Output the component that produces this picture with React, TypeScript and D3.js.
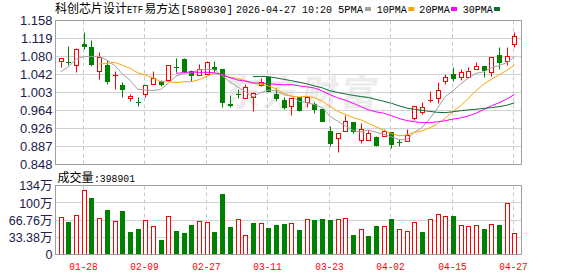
import React from 'react';
import * as d3 from 'd3';

const dates = ['01-23','01-26','01-27','01-28','01-29','01-30','02-02','02-03','02-04','02-05','02-06','02-09','02-10','02-11','02-12','02-13','02-24','02-25','02-26','02-27','03-02','03-03','03-04','03-05','03-06','03-09','03-10','03-11','03-12','03-13','03-16','03-17','03-18','03-19','03-20','03-23','03-24','03-25','03-26','03-27','03-30','03-31','04-01','04-02','04-03','04-07','04-08','04-09','04-10','04-13','04-14','04-15','04-16','04-17','04-20','04-21','04-22','04-23','04-24','04-27'];

const openP = [1.0691,1.0680,1.0605,1.1070,1.0999,1.0489,1.0618,1.0388,1.0187,0.9894,0.9812,0.9993,1.0196,1.0260,1.0295,1.0572,1.0747,1.0482,1.0390,1.0417,1.0575,1.0525,0.9772,0.9996,0.9894,0.9929,1.0187,1.0346,0.9987,0.9858,0.9722,0.9916,0.9808,0.9772,0.9664,0.9197,0.9033,0.9197,0.9378,0.8997,0.9003,0.9055,0.9089,0.9162,0.8951,0.8981,0.9464,0.9606,0.9855,0.9903,1.0260,1.0417,1.0346,1.0346,1.0525,1.0596,1.0467,1.0833,1.0704,1.1063];
const highP = [1.0768,1.1014,1.0977,1.1322,1.1143,1.0891,1.0712,1.0482,1.0245,0.9993,0.9916,1.0174,1.0482,1.0295,1.0618,1.0762,1.0762,1.0497,1.0639,1.0700,1.0700,1.0525,0.9972,1.0095,1.0202,1.0023,1.0331,1.0360,1.0116,0.9929,0.9908,0.9930,0.9929,0.9808,0.9680,0.9304,0.9141,0.9535,0.9378,0.9363,0.9218,0.9089,0.9233,0.9170,0.9018,0.9233,0.9722,0.9821,1.0058,1.0239,1.0417,1.0575,1.0525,1.0575,1.0682,1.0596,1.0777,1.0992,1.0992,1.1315];
const lowP = [1.0568,1.0605,1.0460,1.0962,1.0583,1.0316,1.0209,1.0088,0.9922,0.9836,0.9722,0.9929,1.0196,1.0153,1.0267,1.0460,1.0468,1.0267,1.0390,1.0417,1.0454,0.9713,0.9713,0.9894,0.9894,0.9627,1.0153,1.0045,0.9843,0.9664,0.9541,0.9630,0.9701,0.9580,0.9412,0.8874,0.8745,0.9197,0.9141,0.8925,0.9003,0.8874,0.9075,0.8818,0.8861,0.8981,0.9434,0.9556,0.9808,0.9787,1.0202,1.0260,1.0288,1.0346,1.0525,1.0346,1.0380,1.0525,1.0611,1.0992];
const closeP = [1.0768,1.0676,1.0949,1.1014,1.0626,1.0783,1.0260,1.0392,1.0101,0.9944,0.9808,1.0174,1.0338,1.0209,1.0618,1.0568,1.0482,1.0390,1.0532,1.0676,1.0525,0.9808,0.9756,0.9992,1.0131,1.0002,1.0252,1.0045,0.9894,0.9701,0.9901,0.9642,0.9929,0.9664,0.9412,0.8926,0.9141,0.9399,0.9197,0.9233,0.9147,0.8889,0.9197,0.8910,0.8947,0.9104,0.9722,0.9701,0.9860,1.0073,1.0346,1.0331,1.0454,1.0489,1.0596,1.0504,1.0777,1.0669,1.0811,1.1242];
// closes of the four sessions before the first visible one (feed the moving averages)
const priorCloses = [1.0141,1.0129,1.0724,1.0618];
// volume in 万 (10k)
const volume = [71,62,75,123,108,69,85,63,83,42.6,48,65,53.5,27,73,44.5,40.6,56,63,62,42.6,116,52,67,36,60,60,50,56,58,60,46.5,67,66,68,66,67,69,37,48,35,54,53.5,68,48,44,61,42.6,67,77,73,73.5,55.5,53.5,55.5,48,57.5,56,98,39.89];

const priceTickLabels = ['0.848','0.887','0.926','0.964','1.003','1.042','1.080','1.119','1.158'];
const priceMin = 0.848;
const priceMax = 1.158;
const volTickValues = [0, 33.38, 66.76, 100.14, 133.52];
const volTickLabels = ['0','33.38万','66.76万','100万','134万'];
const dateLabels = ['01-28','02-09','02-27','03-11','03-23','04-02','04-15','04-27'];
const maPeriods = [5, 10, 20, 30];
const maNames = ['5PMA','10PMA','20PMA','30PMA'];
const maColors = ['#a0a0a0','#ffa500','#ff00ff','#0f6b32'];
const titleText = ['科创芯片设计','ETF','易方达','[589030]','2026-04-27 10:20'];
const volTitle = '成交量';
const lastVolText = ':398901';

const RED = '#ff0000';
const GREEN = '#008000';
const CJK = '"Noto Sans CJK SC", sans-serif';
const MONO = '"Liberation Mono", "DejaVu Sans Mono", monospace';
const SANS = '"Liberation Sans", Arial, "Noto Sans CJK SC", sans-serif';

export default function App() {
  const L = 55.5, R = 521.5;
  const pTop = 20.5, pBot = 164.5;
  const vTop = 185.5, vBot = 254.5;

  const x = d3.scaleLinear().domain([0, dates.length - 1]).range([60.7, 514.4]);
  const yP = d3.scaleLinear().domain([priceMin, priceMax]).range([pBot, pTop]);
  const yV = d3.scaleLinear().domain([0, volTickValues[volTickValues.length - 1]]).range([vBot, vTop]);

  const allCloses = priorCloses.concat(closeP);
  const off = priorCloses.length;
  const mas = maPeriods.map((n) =>
    closeP.map((_, i) => {
      const end = i + off;
      if (end - n + 1 < 0) return null;
      return d3.mean(allCloses.slice(end - n + 1, end + 1)) as number;
    })
  );
  const line = d3
    .line<number | null>()
    .defined((d) => d !== null)
    .x((_, i) => x(i))
    .y((d) => yP(d as number));

  const cxs = dates.map((_, i) => Math.round(x(i)));
  const priceTickVals = priceTickLabels.map((_, k) => priceMin + (k * (priceMax - priceMin)) / (priceTickLabels.length - 1));
  const snap = (v: number) => Math.round(v - 0.5) + 0.5;

  const candles = dates.map((d, i) => {
    const o = openP[i], c = closeP[i], h = highP[i], l = lowP[i];
    const prev = i === 0 ? priorCloses[priorCloses.length - 1] : closeP[i - 1];
    const up = c > o || (c === o && c >= prev);
    const cx = cxs[i];
    const wx = cx + 0.5;
    const yTop = snap(yP(Math.max(o, c)));
    const yBot = snap(yP(Math.min(o, c)));
    const yH = snap(yP(h));
    const yL = snap(yP(l));
    const col = up ? RED : GREEN;
    if (yBot - yTop < 1) {
      return (
        <g key={d}>
          <line x1={wx} x2={wx} y1={yH} y2={yL} stroke={col} strokeWidth={1} />
          <line x1={cx - 2} x2={cx + 3} y1={yTop} y2={yTop} stroke={col} strokeWidth={1} />
        </g>
      );
    }
    if (up) {
      return (
        <g key={d}>
          {yH < yTop && <line x1={wx} x2={wx} y1={yH} y2={yTop} stroke={col} />}
          {yL > yBot && <line x1={wx} x2={wx} y1={yBot} y2={yL} stroke={col} />}
          <rect x={cx - 1.5} y={yTop} width={4} height={yBot - yTop} fill="#fff" stroke={col} strokeWidth={1} />
        </g>
      );
    }
    return (
      <g key={d}>
        <line x1={wx} x2={wx} y1={yH} y2={yL} stroke={col} />
        <rect x={cx - 2} y={yTop - 0.5} width={5} height={yBot - yTop + 1} fill={col} />
      </g>
    );
  });

  const volBars = volume.map((v, i) => {
    const prev = i === 0 ? priorCloses[priorCloses.length - 1] : closeP[i - 1];
    const up = closeP[i] >= prev;
    const cx = cxs[i];
    const yt = snap(yV(v));
    if (up) {
      return <rect key={dates[i]} x={cx - 1.5} y={yt} width={4} height={vBot - yt} fill="#fff" stroke={RED} strokeWidth={1} />;
    }
    return <rect key={dates[i]} x={cx - 2} y={yt - 0.5} width={5} height={vBot - yt + 0.5} fill={GREEN} />;
  });

  const labelIdx = dateLabels.map((d) => dates.indexOf(d));

  const legendPos = [
    { tx: 338, tl: 25, sx: 365 },
    { tx: 376.7, tl: 30, sx: 408.3 },
    { tx: 419.3, tl: 30.5, sx: 451 },
    { tx: 462.7, tl: 30, sx: 494 },
  ];

  return (
    <svg width={578} height={276} style={{ position: 'absolute', left: 0, top: 0, background: '#fff' }} xmlns="http://www.w3.org/2000/svg">
      <rect x={0} y={0} width={578} height={276} fill="#fff" />
      {/* title */}
      <g fill="#000">
        <text x={55} y={12.5} fontFamily={CJK} fontSize={12}>{titleText[0]}</text>
        <text x={127} y={12.5} fontFamily={MONO} fontSize={10.5} textLength={16} lengthAdjust="spacingAndGlyphs">{titleText[1]}</text>
        <text x={144.5} y={12.5} fontFamily={CJK} fontSize={11.8}>{titleText[2]}</text>
        <text x={180.5} y={12.5} fontFamily={MONO} fontSize={10.5} textLength={52.5} lengthAdjust="spacingAndGlyphs">{titleText[3]}</text>
        <text x={236} y={12.5} fontFamily={MONO} fontSize={10.5} textLength={96} lengthAdjust="spacingAndGlyphs">{titleText[4]}</text>
        {maNames.map((n, k) => (
          <g key={n}>
            <text x={legendPos[k].tx} y={12.5} fontFamily={MONO} fontSize={10.5} textLength={legendPos[k].tl} lengthAdjust="spacingAndGlyphs">{n}</text>
            <rect x={legendPos[k].sx} y={7} width={6} height={4} fill={maColors[k]} />
          </g>
        ))}
      </g>

      {/* watermark */}
      <text x={224} y={106} fontFamily={CJK} fontSize={36} fontWeight={700} fill="#ececec" letterSpacing={3} transform="skewX(-8) translate(14,0)">东方财富</text>

      {/* grid */}
      {priceTickVals.slice(1, -1).map((v, k) => (
        <line key={'pg' + k} x1={L} x2={R} y1={snap(yP(v))} y2={snap(yP(v))} stroke="#d2d2d2" />
      ))}
      {volTickValues.slice(1, -1).map((v, k) => (
        <line key={'vg' + k} x1={L} x2={R} y1={snap(yV(v))} y2={snap(yV(v))} stroke="#d2d2d2" />
      ))}
      {labelIdx.map((i, k) => (
        <g key={'vl' + k}>
          <line x1={cxs[i] - 0.5} x2={cxs[i] - 0.5} y1={pTop} y2={pBot} stroke="#c8c8c8" strokeDasharray="4,3" />
          <line x1={cxs[i] - 0.5} x2={cxs[i] - 0.5} y1={vTop} y2={vBot} stroke="#c8c8c8" strokeDasharray="4,3" />
        </g>
      ))}

      {/* candles */}
      {candles}

      {/* moving averages */}
      {mas.map((m, k) => (
        <path key={'ma' + k} d={line(m) || ''} fill="none" stroke={maColors[k]} strokeWidth={1} />
      ))}

      {/* volume */}
      {volBars}

      {/* borders */}
      <rect x={L} y={pTop} width={R - L} height={pBot - pTop} fill="none" stroke="#a0a0a0" />
      <rect x={L} y={vTop} width={R - L} height={vBot - vTop} fill="none" stroke="#a0a0a0" />

      {/* price axis labels */}
      {priceTickLabels.map((t, k) => (
        <text key={t} x={52.5} y={yP(priceTickVals[k]) + 4.8} textAnchor="end" fontFamily={SANS} fontSize={13} fill="#20204a">{t}</text>
      ))}
      {/* volume axis labels */}
      {volTickLabels.map((t, k) => (
        <text key={t} x={52.5} y={yV(volTickValues[k]) + 4.8} textAnchor="end" fontFamily={SANS} fontSize={12.5} fill="#20204a">{t}</text>
      ))}

      {/* volume title */}
      <text x={57.5} y={181.5} fontFamily={CJK} fontSize={12} fill="#000">{volTitle}</text>
      <text x={94} y={181.5} fontFamily={MONO} fontSize={10.5} textLength={41} lengthAdjust="spacingAndGlyphs" fill="#000">{lastVolText}</text>

      {/* date labels */}
      {labelIdx.map((i, k) => (
        <text key={'dl' + k} x={cxs[i] - 0.5} y={269.5} textAnchor="middle" fontFamily={MONO} fontSize={11} textLength={28.5} lengthAdjust="spacingAndGlyphs" fill={RED}>{dateLabels[k]}</text>
      ))}
    </svg>
  );
}
